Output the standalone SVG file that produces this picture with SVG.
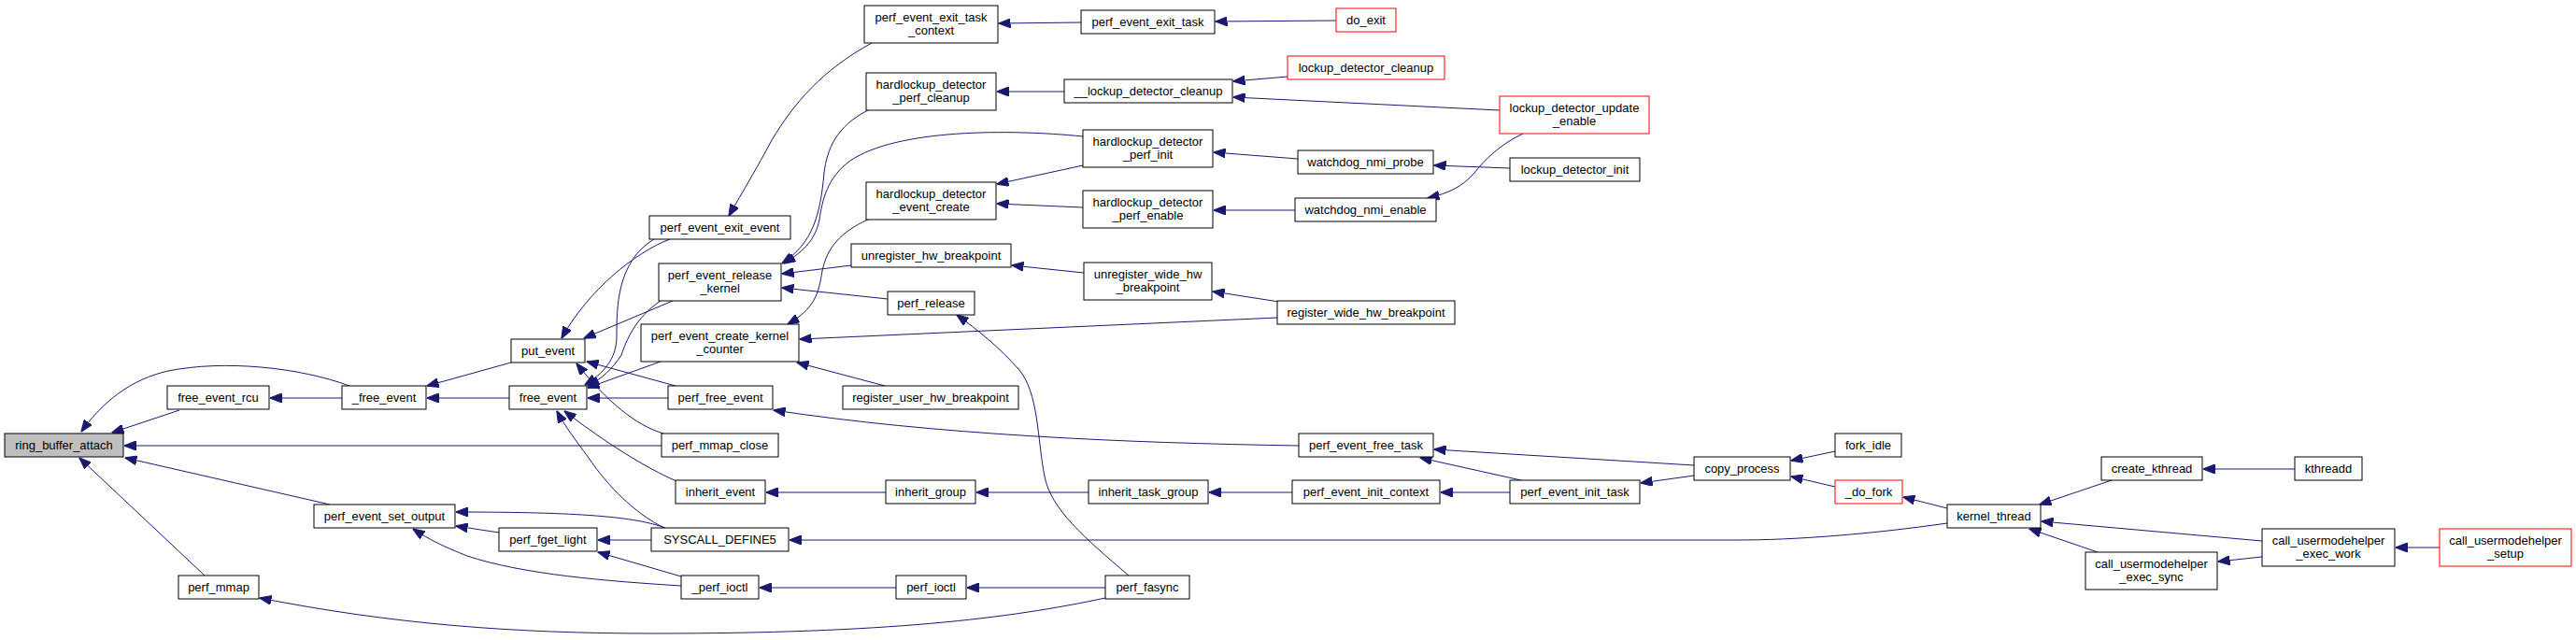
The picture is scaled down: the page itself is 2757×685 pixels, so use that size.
<svg xmlns="http://www.w3.org/2000/svg" width="2757" height="685" viewBox="0 0 2757 685">
<defs>
<style>
.node rect{fill:#ffffff;stroke:#000000;stroke-width:1}
.node.red rect{stroke:#ff0000}
.node.cur rect{fill:#bfbfbf}
.node text{font-family:"Liberation Sans",Arial,Helvetica,sans-serif;font-size:13px;fill:#000000;text-anchor:middle}
#edges path{fill:none;stroke:#191970;stroke-width:1;marker-end:url(#ah)}
</style>
<marker id="ah" viewBox="0 0 13 10" refX="12.5" refY="5" markerWidth="13" markerHeight="10" markerUnits="userSpaceOnUse" orient="auto">
<path d="M0,0 L13,5 L0,10 z" fill="#191970" stroke="#191970" stroke-width="1"/>
</marker>
</defs>
<rect x="0" y="0" width="2757" height="685" fill="#ffffff"/>
<g id="edges">
<path d="M192,439 L120,463"/>
<path d="M374,413 C320,393 240,385 180,397 C140,406 110,430 87,462"/>
<path d="M708,477 L133,477"/>
<path d="M353,540 L134,490"/>
<path d="M219,616 L85,490"/>
<path d="M366,426 L289,426"/>
<path d="M547,388 L457,413"/>
<path d="M545,426 L457,426"/>
<path d="M717,256 C680,270 630,310 601,362"/>
<path d="M720,322 L625,362"/>
<path d="M723,413 L628,387"/>
<path d="M710,464 C680,455 650,430 617,389"/>
<path d="M700,256 C660,280 660,330 660,360 C660,385 645,400 626,412"/>
<path d="M707,322 C680,340 670,365 665,380 C655,395 645,405 629,413"/>
<path d="M707,387 L629,415"/>
<path d="M715,426 L629,426"/>
<path d="M724,515 C690,500 650,475 604,440"/>
<path d="M711,565 C680,550 650,520 630,490 C615,470 604,455 596,440"/>
<path d="M933,46 C880,75 850,110 826,150 C810,180 795,205 780,231"/>
<path d="M1157,24 L1069,25"/>
<path d="M1430,22 L1301,23"/>
<path d="M929,118 C895,135 885,160 882,185 C878,230 870,260 837,282"/>
<path d="M1159,146 C1080,138 960,138 910,172 C885,190 880,215 877,235 C873,255 862,268 839,282"/>
<path d="M911,284 L837,293"/>
<path d="M950,320 L837,308"/>
<path d="M1139,98 L1067,98"/>
<path d="M1378,82 L1320,87"/>
<path d="M1605,118 L1320,104"/>
<path d="M929,235 C900,248 885,265 880,290 C876,315 872,330 843,347"/>
<path d="M1367,340 L856,363"/>
<path d="M947,413 L853,388"/>
<path d="M1159,177 L1067,197"/>
<path d="M1159,222 L1067,218"/>
<path d="M1389,170 L1299,163"/>
<path d="M1386,225 L1299,225"/>
<path d="M1616,180 L1535,177"/>
<path d="M1630,143 C1605,155 1590,170 1578,185 C1565,200 1550,207 1528,212"/>
<path d="M1160,292 L1083,284"/>
<path d="M1369,323 L1298,312"/>
<path d="M1208,616 C1160,575 1125,545 1118,510 C1110,470 1112,420 1090,395 C1070,372 1045,352 1024,337"/>
<path d="M1390,477 C1200,474 1000,465 828,439"/>
<path d="M1813,498 L1535,481"/>
<path d="M1628,514 L1520,490"/>
<path d="M948,527 L820,527"/>
<path d="M1165,527 L1045,527"/>
<path d="M1383,527 L1294,527"/>
<path d="M1616,527 L1542,527"/>
<path d="M1813,509 L1756,517"/>
<path d="M1964,483 L1917,493"/>
<path d="M1964,521 L1917,510"/>
<path d="M2084,544 L2037,532"/>
<path d="M2084,560 C2000,572 1920,578 1860,578 L845,578"/>
<path d="M2260,514 L2183,540"/>
<path d="M2421,579 L2185,558"/>
<path d="M2245,591 L2172,566"/>
<path d="M2456,502 L2358,502"/>
<path d="M2421,596 L2374,601"/>
<path d="M2611,586 L2564,586"/>
<path d="M712,565 C680,553 620,548 488,548"/>
<path d="M534,570 L488,563"/>
<path d="M729,627 C650,622 560,615 500,595 C475,585 460,578 442,566"/>
<path d="M697,578 L640,578"/>
<path d="M729,617 L640,591"/>
<path d="M959,629 L813,629"/>
<path d="M1183,629 L1035,629"/>
<path d="M1183,640 C1080,662 950,678 700,678 C550,678 420,668 278,640"/>
</g>
<g id="n_ring_buffer_attach" class="node cur"><rect x="5" y="464" width="127" height="25"/><text x="68.5" y="480.5">ring_buffer_attach</text></g>
<g id="n_free_event_rcu" class="node"><rect x="179" y="413" width="109" height="25"/><text x="233.5" y="429.5">free_event_rcu</text></g>
<g id="n__free_event" class="node"><rect x="366" y="413" width="90" height="25"/><text x="411" y="429.5">_free_event</text></g>
<g id="n_put_event" class="node"><rect x="547" y="363" width="79" height="25"/><text x="586.5" y="379.5">put_event</text></g>
<g id="n_free_event" class="node"><rect x="545" y="413" width="83" height="25"/><text x="586.5" y="429.5">free_event</text></g>
<g id="n_perf_event_set_output" class="node"><rect x="336" y="540" width="151" height="25"/><text x="411.5" y="556.5">perf_event_set_output</text></g>
<g id="n_perf_fget_light" class="node"><rect x="534" y="565" width="105" height="25"/><text x="586.5" y="581.5">perf_fget_light</text></g>
<g id="n_perf_mmap" class="node"><rect x="191" y="616" width="86" height="25"/><text x="234" y="632.5">perf_mmap</text></g>
<g id="n_perf_event_exit_event" class="node"><rect x="695" y="231" width="151" height="25"/><text x="770.5" y="247.5">perf_event_exit_event</text></g>
<g id="n_perf_event_release_kernel" class="node"><rect x="705" y="282" width="131" height="40"/><text x="770.5" y="298.5">perf_event_release</text><text x="770.5" y="313">_kernel</text></g>
<g id="n_perf_event_create_kernel_counter" class="node"><rect x="686" y="347" width="169" height="40"/><text x="770.5" y="363.5">perf_event_create_kernel</text><text x="770.5" y="378">_counter</text></g>
<g id="n_perf_free_event" class="node"><rect x="715" y="413" width="112" height="25"/><text x="771" y="429.5">perf_free_event</text></g>
<g id="n_perf_mmap_close" class="node"><rect x="708" y="464" width="125" height="25"/><text x="770.5" y="480.5">perf_mmap_close</text></g>
<g id="n_inherit_event" class="node"><rect x="723" y="514" width="96" height="25"/><text x="771" y="530.5">inherit_event</text></g>
<g id="n_SYSCALL_DEFINE5" class="node"><rect x="697" y="565" width="147" height="25"/><text x="770.5" y="581.5">SYSCALL_DEFINE5</text></g>
<g id="n__perf_ioctl" class="node"><rect x="729" y="616" width="83" height="25"/><text x="770.5" y="632.5">_perf_ioctl</text></g>
<g id="n_perf_event_exit_task_context" class="node"><rect x="925" y="6" width="143" height="40"/><text x="996.5" y="22.5">perf_event_exit_task</text><text x="996.5" y="37">_context</text></g>
<g id="n_hardlockup_detector_perf_cleanup" class="node"><rect x="927" y="78" width="139" height="40"/><text x="996.5" y="94.5">hardlockup_detector</text><text x="996.5" y="109">_perf_cleanup</text></g>
<g id="n_hardlockup_detector_event_create" class="node"><rect x="927" y="195" width="139" height="40"/><text x="996.5" y="211.5">hardlockup_detector</text><text x="996.5" y="226">_event_create</text></g>
<g id="n_unregister_hw_breakpoint" class="node"><rect x="911" y="261" width="171" height="25"/><text x="996.5" y="277.5">unregister_hw_breakpoint</text></g>
<g id="n_perf_release" class="node"><rect x="950" y="312" width="93" height="25"/><text x="996.5" y="328.5">perf_release</text></g>
<g id="n_register_user_hw_breakpoint" class="node"><rect x="902" y="413" width="188" height="25"/><text x="996" y="429.5">register_user_hw_breakpoint</text></g>
<g id="n_inherit_group" class="node"><rect x="948" y="514" width="96" height="25"/><text x="996" y="530.5">inherit_group</text></g>
<g id="n_perf_ioctl" class="node"><rect x="959" y="616" width="75" height="25"/><text x="996.5" y="632.5">perf_ioctl</text></g>
<g id="n_perf_event_exit_task" class="node"><rect x="1157" y="11" width="143" height="25"/><text x="1228.5" y="27.5">perf_event_exit_task</text></g>
<g id="n___lockup_detector_cleanup" class="node"><rect x="1139" y="85" width="180" height="25"/><text x="1229" y="101.5">__lockup_detector_cleanup</text></g>
<g id="n_hardlockup_detector_perf_init" class="node"><rect x="1159" y="139" width="139" height="40"/><text x="1228.5" y="155.5">hardlockup_detector</text><text x="1228.5" y="170">_perf_init</text></g>
<g id="n_hardlockup_detector_perf_enable" class="node"><rect x="1159" y="204" width="139" height="40"/><text x="1228.5" y="220.5">hardlockup_detector</text><text x="1228.5" y="235">_perf_enable</text></g>
<g id="n_unregister_wide_hw_breakpoint" class="node"><rect x="1160" y="281" width="137" height="40"/><text x="1228.5" y="297.5">unregister_wide_hw</text><text x="1228.5" y="312">_breakpoint</text></g>
<g id="n_inherit_task_group" class="node"><rect x="1165" y="514" width="128" height="25"/><text x="1229" y="530.5">inherit_task_group</text></g>
<g id="n_perf_fasync" class="node"><rect x="1183" y="616" width="90" height="25"/><text x="1228" y="632.5">perf_fasync</text></g>
<g id="n_do_exit" class="node red"><rect x="1430" y="9" width="64" height="25"/><text x="1462" y="25.5">do_exit</text></g>
<g id="n_lockup_detector_cleanup" class="node red"><rect x="1378" y="60" width="168" height="25"/><text x="1462" y="76.5">lockup_detector_cleanup</text></g>
<g id="n_watchdog_nmi_probe" class="node"><rect x="1389" y="161" width="145" height="25"/><text x="1461.5" y="177.5">watchdog_nmi_probe</text></g>
<g id="n_watchdog_nmi_enable" class="node"><rect x="1386" y="212" width="151" height="25"/><text x="1461.5" y="228.5">watchdog_nmi_enable</text></g>
<g id="n_register_wide_hw_breakpoint" class="node"><rect x="1367" y="322" width="190" height="25"/><text x="1462" y="338.5">register_wide_hw_breakpoint</text></g>
<g id="n_perf_event_free_task" class="node"><rect x="1390" y="464" width="144" height="25"/><text x="1462" y="480.5">perf_event_free_task</text></g>
<g id="n_perf_event_init_context" class="node"><rect x="1383" y="514" width="158" height="25"/><text x="1462" y="530.5">perf_event_init_context</text></g>
<g id="n_lockup_detector_update_enable" class="node red"><rect x="1605" y="103" width="160" height="40"/><text x="1685" y="119.5">lockup_detector_update</text><text x="1685" y="134">_enable</text></g>
<g id="n_lockup_detector_init" class="node"><rect x="1616" y="169" width="139" height="25"/><text x="1685.5" y="185.5">lockup_detector_init</text></g>
<g id="n_perf_event_init_task" class="node"><rect x="1616" y="514" width="139" height="25"/><text x="1685.5" y="530.5">perf_event_init_task</text></g>
<g id="n_copy_process" class="node"><rect x="1813" y="489" width="103" height="25"/><text x="1864.5" y="505.5">copy_process</text></g>
<g id="n_fork_idle" class="node"><rect x="1964" y="464" width="71" height="25"/><text x="1999.5" y="480.5">fork_idle</text></g>
<g id="n__do_fork" class="node red"><rect x="1964" y="514" width="72" height="25"/><text x="2000" y="530.5">_do_fork</text></g>
<g id="n_kernel_thread" class="node"><rect x="2084" y="540" width="100" height="25"/><text x="2134" y="556.5">kernel_thread</text></g>
<g id="n_create_kthread" class="node"><rect x="2249" y="489" width="108" height="25"/><text x="2303" y="505.5">create_kthread</text></g>
<g id="n_kthreadd" class="node"><rect x="2456" y="489" width="72" height="25"/><text x="2492" y="505.5">kthreadd</text></g>
<g id="n_call_usermodehelper_exec_work" class="node"><rect x="2421" y="566" width="142" height="40"/><text x="2492" y="582.5">call_usermodehelper</text><text x="2492" y="597">_exec_work</text></g>
<g id="n_call_usermodehelper_setup" class="node red"><rect x="2611" y="566" width="141" height="40"/><text x="2681.5" y="582.5">call_usermodehelper</text><text x="2681.5" y="597">_setup</text></g>
<g id="n_call_usermodehelper_exec_sync" class="node"><rect x="2232" y="591" width="141" height="40"/><text x="2302.5" y="607.5">call_usermodehelper</text><text x="2302.5" y="622">_exec_sync</text></g>
</svg>
